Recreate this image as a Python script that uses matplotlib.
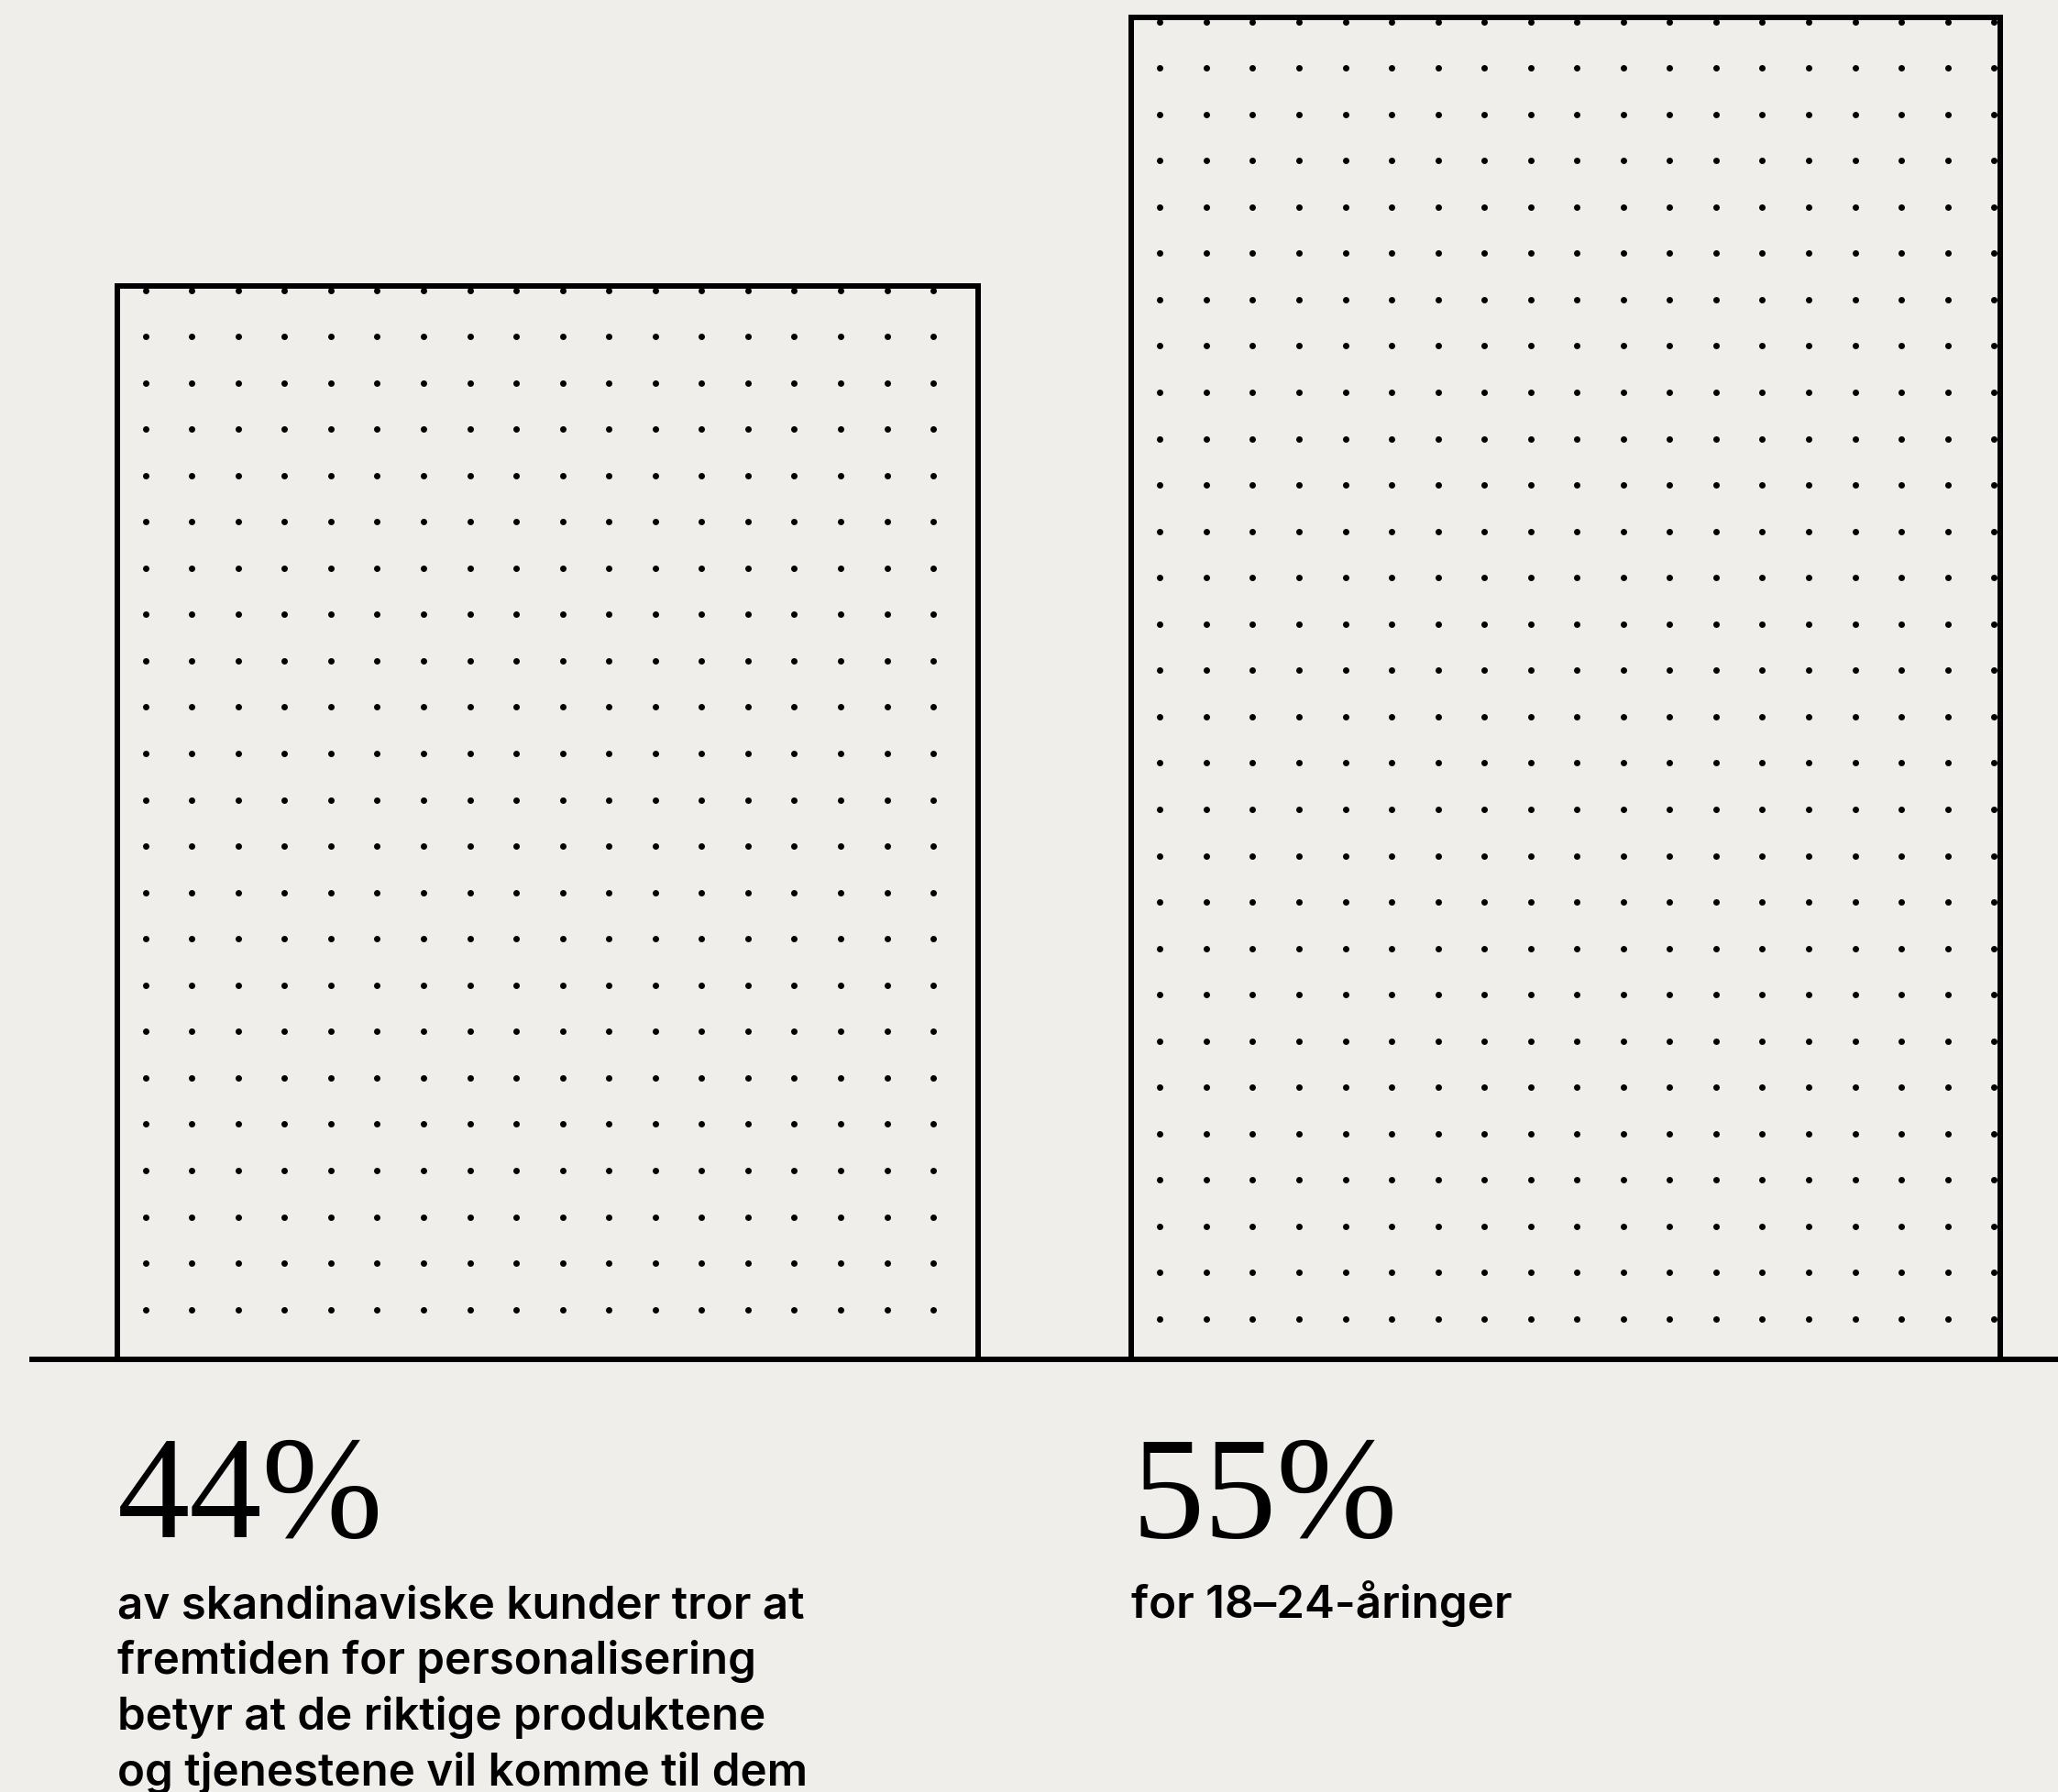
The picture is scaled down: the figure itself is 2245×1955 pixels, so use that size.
import numpy as np
import matplotlib
matplotlib.use("Agg")
import matplotlib.pyplot as plt
from matplotlib import transforms

# share of respondents, per group
groups = ["Alle", "18–24"]
shares = [44, 55]
value_labels = ["44%", "55%"]
captions = [
    ["av skandinaviske kunder tror at",
     "fremtiden for personalisering",
     "betyr at de riktige produktene",
     "og tjenestene vil komme til dem"],
    ["for 18–24-åringer"],
]

BG = "#efeeea"
INK = "#000000"
W, H, DPI = 2245, 1955, 100

fig = plt.figure(figsize=(W / DPI, H / DPI), dpi=DPI, facecolor=BG)
base_px = 1483                      # baseline, px from top
ax = fig.add_axes([0, 1 - base_px / H, 1, base_px / H])
ax.set_facecolor(BG)
ax.axis("off")

x = np.arange(len(groups))
ax.set_xlim(-0.538, 1.4836)
ax.set_ylim(0, 55.7)

bars = ax.bar(x, shares, width=[0.846, 0.853], facecolor="none",
              edgecolor=INK, linewidth=4.3, zorder=3, clip_on=False)

# dotted fill, laid out on a fixed pixel pitch inside each bar
pitch = 50.55
to_px = ax.transData
from_px = ax.transData.inverted()
for bar in bars:
    x0, y1 = to_px.transform((bar.get_x(), bar.get_height()))
    x1, y0 = to_px.transform((bar.get_x() + bar.get_width(), 0))
    cols = np.arange(x0 + 31, x1 - 4, pitch)
    rows = np.arange(y1 - 5, y0 + 4, -pitch)
    gx, gy = np.meshgrid(cols, rows)
    pts = from_px.transform(np.column_stack([gx.ravel(), gy.ravel()]))
    dots = ax.scatter(pts[:, 0], pts[:, 1], s=25, color=INK, linewidths=0,
                      zorder=2)
    dots.set_clip_path(bar)

# baseline running off the right edge
ax.plot([-0.509, 1.4836], [0, 0], color=INK, linewidth=4.3,
        solid_capstyle="butt", zorder=4, clip_on=False)

# big percentage + caption under each bar
trans = transforms.blended_transform_factory(ax.transData, fig.transFigure)
for bar, label, lines in zip(bars, value_labels, captions):
    left = bar.get_x()
    ax.text(left, 1 - 1677 / H, label, transform=trans, ha="left",
            va="baseline", fontsize=114, family="Liberation Serif",
            color=INK)
    for i, line in enumerate(lines):
        ax.text(left, 1 - (1765 + i * 61) / H, line, transform=trans,
                ha="left", va="baseline", fontsize=35.5, family="Inter",
                fontweight="semibold", color=INK)

fig.savefig("out.png", dpi=DPI, facecolor=BG)
